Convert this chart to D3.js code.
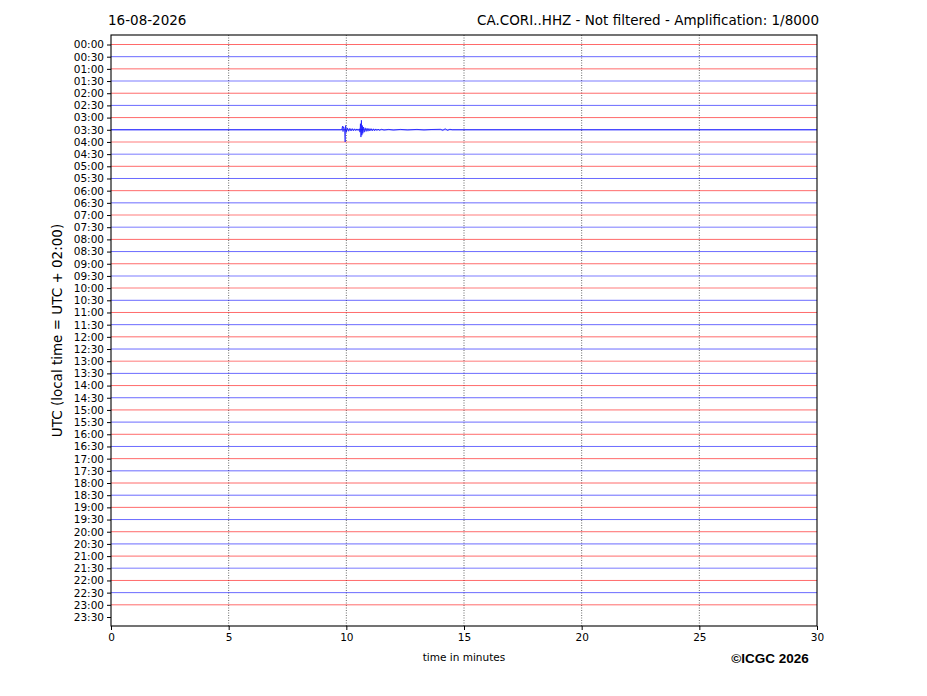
<!DOCTYPE html>
<html>
<head>
<meta charset="utf-8">
<script src="https://cdn.jsdelivr.net/npm/d3@7"></script>
<style>
  body { margin: 0; background: #fff; }
  text { font-family: "DejaVu Sans", sans-serif; fill: #000; }
</style>
</head>
<body>
<script>
const dateLabel = '16-08-2026'
const titleText = 'CA.CORI..HHZ - Not filtered - Amplification: 1/8000'

// one row per half hour
const rowLabels = d3.range(48).map(i =>
  String(Math.floor(i / 2)).padStart(2, '0') + ':' + (i % 2 ? '30' : '00'))

// rough noise level per row, read from the trace thickness (1 quiet, 2 noisy)
const rowNoise = [1,1,1,2,1,1,1,1,2,2,1,1,1,1,2,2,1,1,1,2,2,1,1,1,
                  1,1,2,1,1,1,1,1,1,1,1,1,1,1,1,1,1,1,1,2,1,1,1,1]

// event on the 03:30 row: [minute, amplitude in row units]
const eventRow = 7
const eventTrace = [
  [0, 0], [9.80, 0], [9.84, 0.3], [9.86, -0.15], [9.88, 0.25], [9.92, 0.1],
  [9.95, -1.0], [9.97, 0.35], [10.0, -0.2], [10.05, 0.15], [10.1, -0.12],
  [10.15, 0.12], [10.2, -0.1], [10.25, 0.1], [10.3, -0.08], [10.35, 0.08],
  [10.4, -0.07], [10.45, 0.07], [10.5, -0.06], [10.55, 0.08],
  [10.58, -0.2], [10.6, 0.5], [10.62, -0.6], [10.64, 0.78], [10.66, -0.45],
  [10.68, 0.35], [10.7, -0.3], [10.73, 0.22], [10.76, -0.2], [10.8, 0.16],
  [10.84, -0.14], [10.88, 0.13], [10.92, -0.12], [10.96, 0.11], [11.0, -0.1],
  [11.05, 0.1], [11.1, -0.09], [11.15, 0.08], [11.2, -0.08], [11.25, 0.07],
  [11.3, -0.06], [11.35, 0.06], [11.4, -0.05], [11.5, 0.04], [11.6, -0.03],
  [11.8, 0.03], [12.0, -0.03], [12.3, 0.03], [12.6, -0.02], [13.0, 0.03],
  [13.3, -0.02], [13.6, 0.02], [14.0, 0.04], [14.1, -0.06], [14.2, 0.09],
  [14.3, -0.06], [14.4, 0.04], [14.5, 0], [30, 0]
]

const xTicks = [0, 5, 10, 15, 20, 25, 30]

const width = 927, height = 696
const plotLeft = 111, plotRight = 817, plotTop = 35, plotBottom = 626

const svg = d3.select('body').append('svg')
  .attr('width', width)
  .attr('height', height)

const x = d3.scaleLinear().domain([0, 30]).range([plotLeft, plotRight])
const y = d3.scaleLinear().domain([0, 47]).range([44.5, 617])
const rowPx = y(1) - y(0)
const rowColor = i => i % 2 ? '#0000ff' : '#ff0000'

// vertical grid
svg.selectAll('line.grid')
  .data(xTicks.slice(1, -1))
  .enter().append('line')
  .attr('x1', d => x(d)).attr('x2', d => x(d))
  .attr('y1', plotTop).attr('y2', plotBottom)
  .attr('stroke', '#444')
  .attr('stroke-width', 0.8)
  .attr('stroke-dasharray', '1,1.5')

// flat traces
svg.selectAll('line.trace')
  .data(rowLabels)
  .enter().append('line')
  .filter((d, i) => i !== eventRow)
  .attr('x1', x(0)).attr('x2', x(30))
  .attr('y1', (d, i) => y(i)).attr('y2', (d, i) => y(i))
  .attr('stroke', (d, i) => rowColor(i))
  .attr('stroke-width', (d, i) => rowNoise[i] > 1 ? 1.5 : 0.9)
  .attr('stroke-opacity', (d, i) => rowNoise[i] > 1 ? 0.35 : 0.65)

// event trace
svg.append('path')
  .datum(eventTrace)
  .attr('fill', 'none')
  .attr('stroke', rowColor(eventRow))
  .attr('stroke-width', 0.9)
  .attr('stroke-opacity', 0.75)
  .attr('d', d3.line()
    .x(d => x(d[0]))
    .y(d => y(eventRow) - d[1] * rowPx))

// frame
svg.append('rect')
  .attr('x', plotLeft).attr('y', plotTop)
  .attr('width', plotRight - plotLeft).attr('height', plotBottom - plotTop)
  .attr('fill', 'none').attr('stroke', '#000').attr('stroke-width', 1.1)

// axes
const yAxis = d3.axisLeft(y)
  .tickValues(d3.range(48))
  .tickFormat(i => rowLabels[i])
  .tickSize(4).tickPadding(3)

svg.append('g')
  .attr('transform', `translate(${plotLeft},0)`)
  .call(yAxis)
  .call(g => g.select('.domain').remove())
  .call(g => g.selectAll('text').style('font-family', 'DejaVu Sans').style('font-size', '10.5px'))

const xAxis = d3.axisBottom(x)
  .tickValues(xTicks)
  .tickFormat(d3.format('d'))
  .tickSize(4).tickPadding(4)

svg.append('g')
  .attr('transform', `translate(0,${plotBottom})`)
  .call(xAxis)
  .call(g => g.select('.domain').remove())
  .call(g => g.selectAll('text').style('font-family', 'DejaVu Sans').style('font-size', '10.5px'))

// labels
svg.append('text')
  .attr('x', 108).attr('y', 25)
  .style('font-size', '13.5px')
  .text(dateLabel)

svg.append('text')
  .attr('x', 819).attr('y', 25)
  .attr('text-anchor', 'end')
  .style('font-size', '13.5px')
  .text(titleText)

svg.append('text')
  .attr('transform', `translate(62,${(plotTop + plotBottom) / 2}) rotate(-90)`)
  .attr('text-anchor', 'middle')
  .style('font-size', '13.5px')
  .text('UTC (local time = UTC + 02:00)')

svg.append('text')
  .attr('x', x(15)).attr('y', 661)
  .attr('text-anchor', 'middle')
  .style('font-size', '10.5px')
  .text('time in minutes')

svg.append('text')
  .attr('x', 770).attr('y', 663)
  .attr('text-anchor', 'middle')
  .style('font-family', '"Liberation Sans", Arial, sans-serif')
  .style('font-weight', 'bold')
  .style('font-size', '13.5px')
  .text('©ICGC 2026')
</script>
</body>
</html>
